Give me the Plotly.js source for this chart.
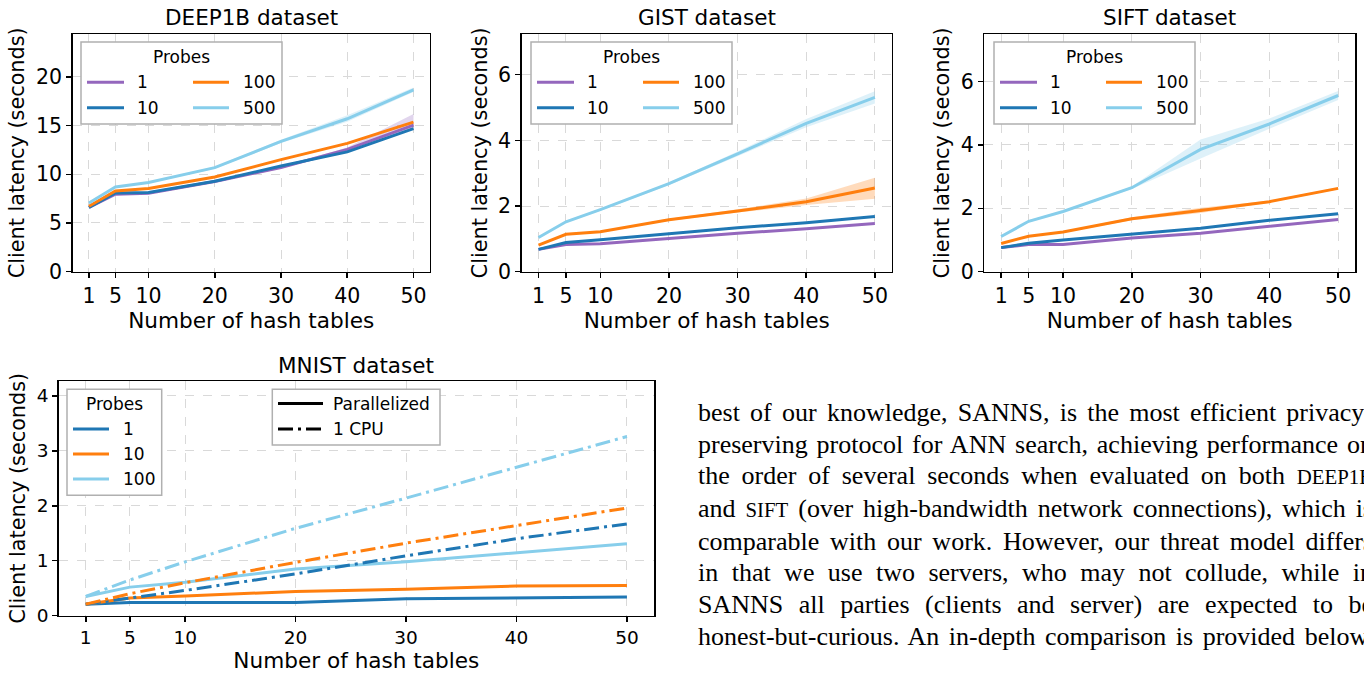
<!DOCTYPE html>
<html>
<head>
<meta charset="utf-8">
<script src="https://cdn.plot.ly/plotly-3.0.1.min.js"></script>
<style>
  html, body { margin:0; padding:0; background:#fff; overflow:hidden; width:1364px; height:673px; }
  #chart { position:absolute; left:0; top:0; width:1364px; height:673px; }
  #para { position:absolute; left:698px; top:397px; width:675px; font-family:"Liberation Serif","Times New Roman",serif;
          font-size:26px; line-height:31.67px; color:#000; }
  #para div { text-align:justify; text-align-last:justify; white-space:normal; }
  .sc { font-size:0.8em; }
</style>
</head>
<body>
<div id="chart"></div>
<div id="para">
  <div>best of our knowledge, SANNS, is the most efficient privacy-</div>
  <div>preserving protocol for ANN search, achieving performance on</div>
  <div>the order of several seconds when evaluated on both <span class="sc">DEEP1B</span></div>
  <div>and <span class="sc">SIFT</span> (over high-bandwidth network connections), which is</div>
  <div>comparable with our work. However, our threat model differs</div>
  <div>in that we use two servers, who may not collude, while in</div>
  <div>SANNS all parties (clients and server) are expected to be</div>
  <div>honest-but-curious. An in-depth comparison is provided below.</div>
</div>
<script>
// ---------------- DATA ----------------
const hashTables = [1, 5, 10, 20, 30, 40, 50];
const xTickVals = [1, 5, 10, 20, 30, 40, 50];

// DEEP1B (probes 1, 10, 100, 500)
const deep1b_p1     = [6.60, 7.95, 8.05, 9.25, 10.70, 12.56, 15.05];
const deep1b_p1_lo  = [6.50, 7.85, 7.95, 9.15, 10.60, 12.40, 14.60];
const deep1b_p1_hi  = [6.70, 8.05, 8.15, 9.35, 10.80, 12.75, 16.20];
const deep1b_p10    = [6.59, 8.09, 8.12, 9.28, 10.85, 12.30, 14.68];
const deep1b_p100   = [6.72, 8.29, 8.53, 9.73, 11.50, 13.17, 15.36];
const deep1b_p500   = [7.06, 8.70, 9.15, 10.68, 13.38, 15.70, 18.67];
const deep1b_p500_lo= [6.98, 8.62, 9.07, 10.58, 13.20, 15.40, 18.45];
const deep1b_p500_hi= [7.14, 8.78, 9.23, 10.78, 13.55, 16.05, 18.90];

// GIST
const gist_p1      = [0.68, 0.83, 0.85, 1.02, 1.17, 1.31, 1.47];
const gist_p10     = [0.68, 0.89, 0.97, 1.15, 1.34, 1.49, 1.68];
const gist_p100    = [0.81, 1.14, 1.22, 1.58, 1.85, 2.13, 2.55];
const gist_p100_lo = [0.79, 1.12, 1.20, 1.55, 1.80, 2.03, 2.22];
const gist_p100_hi = [0.83, 1.16, 1.24, 1.61, 1.90, 2.23, 2.86];
const gist_p500    = [1.04, 1.52, 1.89, 2.68, 3.59, 4.52, 5.31];
const gist_p500_lo = [1.01, 1.49, 1.86, 2.64, 3.52, 4.40, 5.12];
const gist_p500_hi = [1.07, 1.55, 1.92, 2.72, 3.66, 4.65, 5.50];

// SIFT
const sift_p1      = [0.76, 0.86, 0.86, 1.06, 1.21, 1.43, 1.65];
const sift_p10     = [0.76, 0.90, 1.00, 1.18, 1.37, 1.62, 1.83];
const sift_p100    = [0.89, 1.12, 1.25, 1.67, 1.93, 2.21, 2.63];
const sift_p100_lo = [0.87, 1.10, 1.23, 1.62, 1.85, 2.18, 2.60];
const sift_p100_hi = [0.91, 1.14, 1.27, 1.72, 2.02, 2.24, 2.66];
const sift_p500    = [1.11, 1.59, 1.90, 2.65, 3.86, 4.66, 5.56];
const sift_p500_lo = [1.08, 1.56, 1.87, 2.61, 3.57, 4.51, 5.42];
const sift_p500_hi = [1.14, 1.62, 1.93, 2.69, 4.17, 4.83, 5.70];

// MNIST (probes 1, 10, 100; parallelized vs 1 CPU)
const mnist_par_p1   = [0.21, 0.24, 0.24, 0.24, 0.31, 0.33, 0.34];
const mnist_par_p10  = [0.21, 0.32, 0.36, 0.44, 0.48, 0.54, 0.55];
const mnist_par_p100 = [0.35, 0.52, 0.61, 0.85, 0.98, 1.14, 1.31];
const mnist_cpu_p1   = [0.21, 0.32, 0.46, 0.76, 1.09, 1.40, 1.67];
const mnist_cpu_p10  = [0.21, 0.40, 0.60, 0.97, 1.32, 1.64, 1.96];
const mnist_cpu_p100 = [0.35, 0.65, 0.98, 1.59, 2.14, 2.70, 3.26];

const subplotTitles = ['DEEP1B dataset', 'GIST dataset', 'SIFT dataset', 'MNIST dataset'];
const probeLabelsTop = ['1', '10', '100', '500'];
const probeLabelsMnist = ['1', '10', '100'];
const styleLabels = ['Parallelized', '1 CPU'];
const yTitle = 'Client latency (seconds)';
const xTitle = 'Number of hash tables';

// ---------------- STYLE ----------------
const W = 1364, H = 673;
const px = x => x / W;
const py = y => 1 - y / H;
const C_PURPLE = '#9467bd', C_BLUE = '#1f77b4', C_ORANGE = '#ff7f0e', C_SKY = '#87ceeb';
const rgba = (hex, a) => {
  const n = parseInt(hex.slice(1), 16);
  return `rgba(${(n >> 16) & 255},${(n >> 8) & 255},${n & 255},${a})`;
};
const LW = 3;
const DASHDOT = '15px,5px,3px,5px';
const FONT = 'DejaVu Sans';

const traces = [];
function band(lo, hi, color, xa, ya) {
  traces.push({x: hashTables, y: lo, xaxis: xa, yaxis: ya, mode: 'lines', line: {width: 0, color: color},
               showlegend: false, hoverinfo: 'skip'});
  traces.push({x: hashTables, y: hi, xaxis: xa, yaxis: ya, mode: 'lines', line: {width: 0, color: color},
               fill: 'tonexty', fillcolor: rgba(color, 0.28), showlegend: false, hoverinfo: 'skip'});
}
function line(y, color, xa, ya, name, dash) {
  traces.push({x: hashTables, y: y, xaxis: xa, yaxis: ya, mode: 'lines', name: name,
               line: {width: LW, color: color, dash: dash || 'solid'}, showlegend: false});
}

// DEEP1B
band(deep1b_p1_lo, deep1b_p1_hi, C_PURPLE, 'x', 'y');
band(deep1b_p500_lo, deep1b_p500_hi, C_SKY, 'x', 'y');
line(deep1b_p1, C_PURPLE, 'x', 'y', '1');
line(deep1b_p10, C_BLUE, 'x', 'y', '10');
line(deep1b_p100, C_ORANGE, 'x', 'y', '100');
line(deep1b_p500, C_SKY, 'x', 'y', '500');
// GIST
band(gist_p100_lo, gist_p100_hi, C_ORANGE, 'x2', 'y2');
band(gist_p500_lo, gist_p500_hi, C_SKY, 'x2', 'y2');
line(gist_p1, C_PURPLE, 'x2', 'y2', '1');
line(gist_p10, C_BLUE, 'x2', 'y2', '10');
line(gist_p100, C_ORANGE, 'x2', 'y2', '100');
line(gist_p500, C_SKY, 'x2', 'y2', '500');
// SIFT
band(sift_p100_lo, sift_p100_hi, C_ORANGE, 'x3', 'y3');
band(sift_p500_lo, sift_p500_hi, C_SKY, 'x3', 'y3');
line(sift_p1, C_PURPLE, 'x3', 'y3', '1');
line(sift_p10, C_BLUE, 'x3', 'y3', '10');
line(sift_p100, C_ORANGE, 'x3', 'y3', '100');
line(sift_p500, C_SKY, 'x3', 'y3', '500');
// MNIST
line(mnist_par_p1, C_BLUE, 'x4', 'y4', '1 parallelized');
line(mnist_par_p10, C_ORANGE, 'x4', 'y4', '10 parallelized');
line(mnist_par_p100, C_SKY, 'x4', 'y4', '100 parallelized');
line(mnist_cpu_p1, C_BLUE, 'x4', 'y4', '1 CPU', DASHDOT);
line(mnist_cpu_p10, C_ORANGE, 'x4', 'y4', '10 CPU', DASHDOT);
line(mnist_cpu_p100, C_SKY, 'x4', 'y4', '100 CPU', DASHDOT);

function xAxis(domain, anchor, tickSize) {
  return {domain: domain, anchor: anchor, range: [-1.45, 52.45], tickvals: xTickVals, ticktext: xTickVals.map(String),
          ticks: 'outside', ticklen: 5, tickwidth: 1.5, tickcolor: '#000',
          showline: true, linecolor: '#000', linewidth: 1.5, mirror: true,
          showgrid: true, gridcolor: '#d9d9d9', gridwidth: 1, griddash: 'dash', zeroline: false,
          tickfont: {family: FONT, size: tickSize, color: '#000'},
          title: {text: xTitle, font: {family: FONT, size: 21.6, color: '#000'}, standoff: 0},
          automargin: false, fixedrange: true};
}
function yAxis(domain, anchor, range, dtick, tickSize) {
  return {domain: domain, anchor: anchor, range: range, dtick: dtick, tick0: 0,
          ticks: 'outside', ticklen: 5, tickwidth: 1.5, tickcolor: '#000',
          showline: true, linecolor: '#000', linewidth: 1.5, mirror: true,
          showgrid: true, gridcolor: '#d9d9d9', gridwidth: 1, griddash: 'dash', zeroline: false,
          tickfont: {family: FONT, size: tickSize, color: '#000'},
          title: {text: yTitle, font: {family: FONT, size: 20.8, color: '#000'}, standoff: 5},
          automargin: false, fixedrange: true};
}

const topY = [py(271.7), py(34)];
const botY = [py(615.7), py(381)];

const shapes = [];
const annotations = [];

function txt(text, x, y, size, anchor) {
  annotations.push({text: text, x: px(x), y: py(y), xref: 'paper', yref: 'paper', showarrow: false,
                    xanchor: anchor || 'left', yanchor: 'middle', font: {family: FONT, size: size, color: '#000'},
                    borderpad: 0});
}
function box(x0, y0, x1, y1) {
  shapes.push({type: 'rect', xref: 'paper', yref: 'paper', x0: px(x0), x1: px(x1), y0: py(y0), y1: py(y1),
               line: {color: '#b0b0b0', width: 1.5}, fillcolor: '#ffffff', layer: 'above'});
}
function sample(x0, x1, y, color, dash) {
  shapes.push({type: 'line', xref: 'paper', yref: 'paper', x0: px(x0), x1: px(x1), y0: py(y), y1: py(y),
               line: {color: color, width: LW, dash: dash || 'solid'}, layer: 'above'});
}

// subplot titles
txt(subplotTitles[0], 251.2, 17.5, 21.5, 'center');
txt(subplotTitles[1], 706.7, 17.5, 21.5, 'center');
txt(subplotTitles[2], 1169.7, 17.5, 21.5, 'center');
txt(subplotTitles[3], 356.4, 365, 21.5, 'center');

// top legends (2 columns)
const topColors = [C_PURPLE, C_BLUE, C_ORANGE, C_SKY];
[81, 531, 994].forEach(L => {
  box(L, 42, L + 201, 124);
  txt('Probes', L + 100.7, 57, 17, 'center');
  sample(L + 6, L + 43, 82.3, topColors[0]); txt(probeLabelsTop[0], L + 55, 82.3, 17);
  sample(L + 6, L + 43, 107.7, topColors[1]); txt(probeLabelsTop[1], L + 55, 107.7, 17);
  sample(L + 112, L + 148, 82.3, topColors[2]); txt(probeLabelsTop[2], L + 161, 82.3, 17);
  sample(L + 112, L + 148, 107.7, topColors[3]); txt(probeLabelsTop[3], L + 161, 107.7, 17);
});

// MNIST legends
box(67, 389.3, 161.7, 495.3);
txt('Probes', 114.3, 403.5, 17, 'center');
sample(73, 109, 429, C_BLUE);   txt(probeLabelsMnist[0], 122, 429, 17);
sample(73, 109, 454, C_ORANGE); txt(probeLabelsMnist[1], 122, 454, 17);
sample(73, 109, 479, C_SKY);    txt(probeLabelsMnist[2], 122, 479, 17);

box(272.3, 389.3, 440, 445);
sample(278, 323, 403.5, '#000');          txt(styleLabels[0], 332, 403.5, 17);
sample(278, 323, 429, '#000', DASHDOT);   txt(styleLabels[1], 332, 429, 17);

const layout = {
  width: W, height: H, margin: {l: 0, r: 0, t: 0, b: 0},
  paper_bgcolor: '#fff', plot_bgcolor: '#fff', showlegend: false,
  font: {family: FONT, color: '#000'},
  xaxis:  xAxis([px(72.7), px(429.7)], 'y', 20.5),
  yaxis:  yAxis(topY, 'x', [0, 24.4], 5, 20.5),
  xaxis2: xAxis([px(521.7), px(891.7)], 'y2', 20.5),
  yaxis2: yAxis(topY, 'x2', [0, 7.24], 2, 20.5),
  xaxis3: xAxis([px(984.3), px(1355)], 'y3', 20.5),
  yaxis3: yAxis(topY, 'x3', [0, 7.5], 2, 20.5),
  xaxis4: xAxis([px(58.7), px(654)], 'y4', 18.5),
  yaxis4: yAxis(botY, 'x4', [0, 4.27], 1, 18.5),
  shapes: shapes, annotations: annotations, hovermode: false
};

Plotly.newPlot('chart', traces, layout, {staticPlot: true, displayModeBar: false});
</script>
</body>
</html>
